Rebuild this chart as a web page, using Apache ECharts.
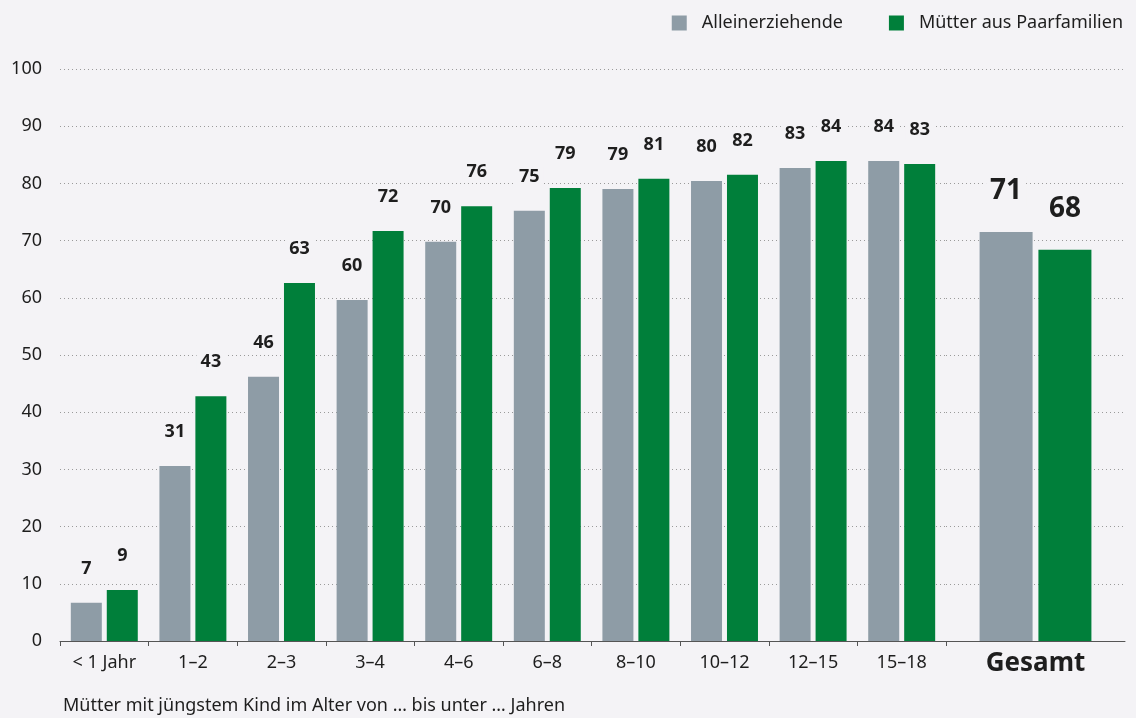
<!DOCTYPE html>
<html>
<head>
    <meta charset="utf-8">
    <title>chart</title>
    <script src="https://cdn.jsdelivr.net/npm/echarts@6/dist/echarts.min.js"></script>
    <style>
        html, body { margin: 0; padding: 0; background: #f4f3f6; }
        #main { width: 1136px; height: 718px; }
    </style>
</head>
<body>
<div id="main"></div>
<script>
    // Kategorien (Alter des jüngsten Kindes)
    var categories = ['< 1 Jahr', '1–2', '2–3', '3–4', '4–6', '6–8', '8–10', '10–12', '12–15', '15–18'];
    var totalCategory = ['Gesamt'];
    // Balkenhöhen
    var allein = [6.7, 30.6, 46.2, 59.6, 69.8, 75.2, 79.0, 80.4, 82.7, 83.9];
    var paar = [8.9, 42.8, 62.6, 71.7, 76.0, 79.2, 80.8, 81.5, 83.9, 83.4];
    var alleinTotal = [71.5];
    var paarTotal = [68.4];
    // angezeigte Werte
    var alleinLabels = [7, 31, 46, 60, 70, 75, 79, 80, 83, 84];
    var paarLabels = [9, 43, 63, 72, 76, 79, 81, 82, 84, 83];
    var alleinTotalLabels = [71];
    var paarTotalLabels = [68];
    var yTicks = [0, 10, 20, 30, 40, 50, 60, 70, 80, 90, 100];

    var bg = '#f4f3f6';
    var grey = '#8e9ca6';
    var green = '#007f3a';
    var txt = '#1e1e1e';
    var font = 'Noto Sans';

    var chart = echarts.init(document.getElementById('main'));

    function valueLabel(list, size, dist) {
        return {
            show: true,
            position: 'top',
            distance: dist,
            fontFamily: font,
            fontWeight: 'bold',
            fontSize: size,
            color: txt,
            backgroundColor: bg,
            padding: [1, 4],
            formatter: function (p) { return list[p.dataIndex]; }
        };
    }

    var splitLine = { show: true, lineStyle: { color: '#9a9a9a', type: [1, 3], width: 1 } };

    chart.setOption({
        backgroundColor: bg,
        animation: false,
        textStyle: { fontFamily: font },
        title: {
            text: 'Mütter mit jüngstem Kind im Alter von … bis unter … Jahren',
            left: 58, top: 692,
            textStyle: { fontFamily: font, fontWeight: 'normal', fontSize: 18, color: txt }
        },
        legend: {
            right: 8, top: 9,
            itemWidth: 15, itemHeight: 15, itemGap: 46,
            icon: 'rect',
            textStyle: { fontFamily: font, fontSize: 18, color: txt, padding: [0, 0, 0, 10] },
            data: ['Alleinerziehende', 'Mütter aus Paarfamilien']
        },
        grid: [
            { left: 60, top: 69, width: 886, height: 572 },
            { left: 946, top: 69, width: 179, height: 572 }
        ],
        xAxis: [
            {
                type: 'category', gridIndex: 0, data: categories,
                axisLine: { lineStyle: { color: '#555', width: 1 } },
                axisTick: { show: true, length: 5, lineStyle: { color: '#555' } },
                axisLabel: { fontFamily: font, fontSize: 18, color: txt, margin: 13 }
            },
            {
                type: 'category', gridIndex: 1, data: totalCategory,
                axisLine: { lineStyle: { color: '#555', width: 1 } },
                axisTick: { show: false },
                axisLabel: { fontFamily: font, fontSize: 26, fontWeight: 'bold', color: txt, margin: 10 }
            }
        ],
        yAxis: [
            {
                type: 'value', gridIndex: 0, min: 0, max: 100, interval: 10,
                axisLine: { show: false }, axisTick: { show: false },
                axisLabel: {
                    fontFamily: font, fontSize: 18, color: txt, margin: 18,
                    formatter: function (v) { return yTicks.indexOf(v) >= 0 ? v : ''; }
                },
                splitLine: splitLine
            },
            {
                type: 'value', gridIndex: 1, min: 0, max: 100, interval: 10,
                axisLine: { show: false }, axisTick: { show: false },
                axisLabel: { show: false },
                splitLine: splitLine
            }
        ],
        series: [
            {
                name: 'Alleinerziehende', type: 'bar', xAxisIndex: 0, yAxisIndex: 0,
                data: allein, barWidth: 31, barGap: '16%',
                itemStyle: { color: grey },
                label: valueLabel(alleinLabels, 18, 24)
            },
            {
                name: 'Mütter aus Paarfamilien', type: 'bar', xAxisIndex: 0, yAxisIndex: 0,
                data: paar, barWidth: 31, barGap: '16%',
                itemStyle: { color: green },
                label: valueLabel(paarLabels, 18, 24)
            },
            {
                name: 'Alleinerziehende', type: 'bar', xAxisIndex: 1, yAxisIndex: 1,
                data: alleinTotal, barWidth: 53, barGap: '11%',
                itemStyle: { color: grey },
                label: valueLabel(alleinTotalLabels, 28, 26)
            },
            {
                name: 'Mütter aus Paarfamilien', type: 'bar', xAxisIndex: 1, yAxisIndex: 1,
                data: paarTotal, barWidth: 53, barGap: '11%',
                itemStyle: { color: green },
                label: valueLabel(paarTotalLabels, 28, 26)
            }
        ]
    });
</script>
</body>
</html>
